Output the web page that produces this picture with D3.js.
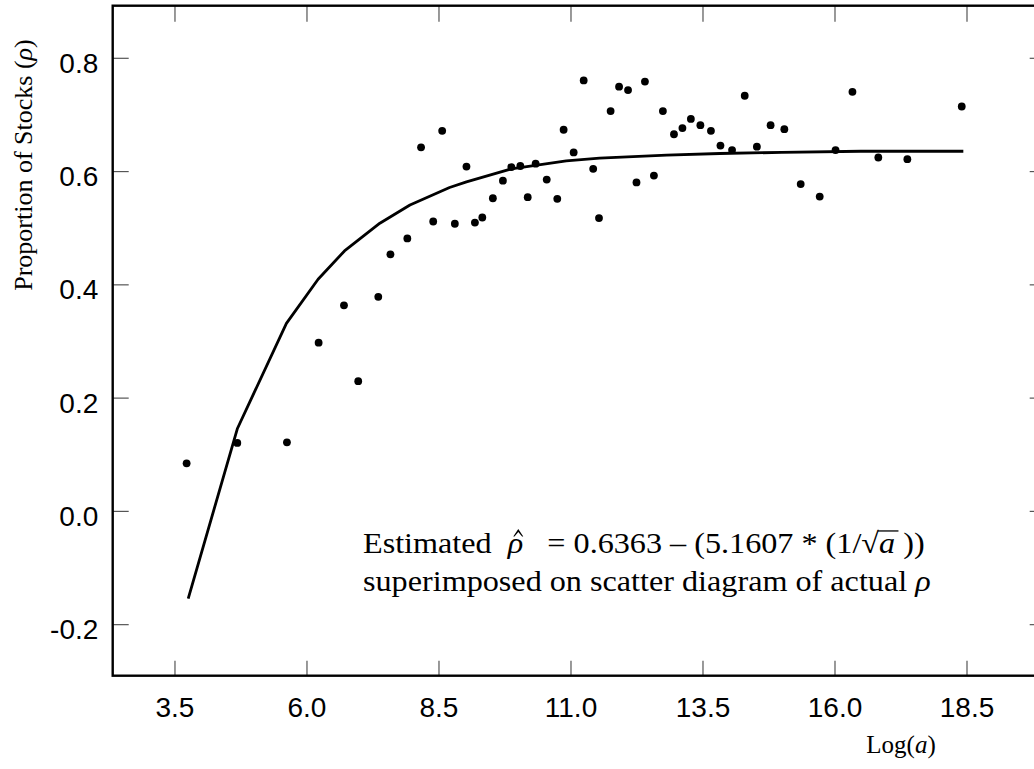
<!DOCTYPE html>
<html>
<head>
<meta charset="utf-8">
<script src="https://cdn.jsdelivr.net/npm/d3@7"></script>
<style>
  html, body { margin: 0; padding: 0; background: #fff; }
  svg { display: block; }
  text { white-space: pre; }
</style>
</head>
<body>
<svg id="chart" width="1034" height="769"></svg>
<script>
// observed rho for each Log(a)
const logA = [3.73, 4.69, 5.63, 6.23, 6.71, 6.98, 7.36, 7.59, 7.91, 8.17, 8.40, 8.57, 8.81, 9.03,
  9.19, 9.33, 9.53, 9.72, 9.88, 10.05, 10.19, 10.34, 10.55, 10.75, 10.87, 11.06, 11.25, 11.43,
  11.54, 11.76, 11.92, 12.09, 12.25, 12.41, 12.58, 12.75, 12.96, 13.12, 13.28, 13.46, 13.66,
  13.84, 14.06, 14.30, 14.53, 14.79, 15.05, 15.36, 15.72, 16.02, 16.34, 16.83, 17.38, 18.41];
const rho = [0.084, 0.120, 0.121, 0.297, 0.363, 0.229, 0.378, 0.453, 0.481, 0.642, 0.511, 0.671,
  0.507, 0.608, 0.509, 0.518, 0.552, 0.583, 0.607, 0.609, 0.554, 0.613, 0.585, 0.551, 0.673,
  0.633, 0.760, 0.604, 0.517, 0.706, 0.749, 0.743, 0.580, 0.758, 0.592, 0.706, 0.665, 0.676,
  0.692, 0.681, 0.671, 0.645, 0.637, 0.733, 0.643, 0.681, 0.674, 0.577, 0.555, 0.637, 0.740,
  0.624, 0.621, 0.714];

// fitted curve
const fitLogA = [3.76, 4.69, 5.62, 6.22, 6.72, 7.39, 7.96, 8.71, 9.03, 9.88, 10.92, 11.55,
  12.82, 13.83, 15.0, 16.5, 18.44];
const fitRho = [-0.155, 0.145, 0.331, 0.409, 0.459, 0.508, 0.540, 0.571, 0.581, 0.604, 0.618,
  0.623, 0.628, 0.631, 0.633, 0.635, 0.635];

const xTicks = [3.5, 6.0, 8.5, 11.0, 13.5, 16.0, 18.5];
const yTicks = [-0.2, 0.0, 0.2, 0.4, 0.6, 0.8];

const serif = "'Liberation Serif', 'Times New Roman', serif";
const sans = "'Liberation Sans', Arial, sans-serif";

const margin = { left: 112.7, top: 5.7 };
const width = 933, height = 670;

const svg = d3.select("#chart");
const g = svg.append("g").attr("transform", `translate(${margin.left},${margin.top})`);

const x = d3.scaleLinear().domain([2.33, 20.0]).range([0, width]);
const y = d3.scaleLinear().domain([-0.291, 0.892]).range([height, 0]);

const fmt = d => d.toFixed(1);

function styleTicks(sel) {
  sel.select(".domain").remove();
  sel.selectAll(".tick line").attr("stroke", "#555").attr("stroke-width", 1.2);
}

g.append("g")
  .call(d3.axisLeft(y).tickValues(yTicks).tickSize(-16).tickPadding(14.4).tickFormat(fmt))
  .call(styleTicks)
  .call(a => a.selectAll("text")
    .attr("font-family", sans).attr("font-size", 28).attr("fill", "#000").attr("dy", "0.52em"));

g.append("g")
  .attr("transform", `translate(0,${height})`)
  .call(d3.axisBottom(x).tickValues(xTicks).tickSize(-15).tickPadding(21.4).tickFormat(fmt))
  .call(styleTicks)
  .call(a => a.selectAll("text")
    .attr("font-family", sans).attr("font-size", 28).attr("fill", "#000"));

g.append("g")
  .call(d3.axisTop(x).tickValues(xTicks).tickSize(-16).tickFormat(""))
  .call(styleTicks);

g.append("g")
  .attr("transform", `translate(${width},0)`)
  .call(d3.axisRight(y).tickValues(yTicks).tickSize(-16).tickFormat(""))
  .call(styleTicks);

// frame
g.append("rect")
  .attr("width", width).attr("height", height)
  .attr("fill", "none").attr("stroke", "#000").attr("stroke-width", 2.4);

// fitted line
const line = d3.line().x(d => x(d[0])).y(d => y(d[1]));
g.append("path")
  .datum(d3.zip(fitLogA, fitRho))
  .attr("d", line)
  .attr("fill", "none").attr("stroke", "#000").attr("stroke-width", 2.8)
  .attr("stroke-linejoin", "round");

// scatter
g.selectAll("circle.pt")
  .data(d3.zip(logA, rho))
  .join("circle")
  .attr("class", "pt")
  .attr("cx", d => x(d[0]))
  .attr("cy", d => y(d[1]))
  .attr("r", 3.9)
  .attr("fill", "#000");

// axis titles
const yTitle = svg.append("text")
  .attr("transform", "translate(32,165) rotate(-90)")
  .attr("text-anchor", "middle")
  .attr("font-family", serif).attr("font-size", 26);
yTitle.append("tspan").text("Proportion of Stocks (");
yTitle.append("tspan").attr("font-style", "italic").text("ρ");
yTitle.append("tspan").text(")");

const xTitle = svg.append("text")
  .attr("x", 901).attr("y", 753)
  .attr("text-anchor", "middle")
  .attr("font-family", serif).attr("font-size", 25);
xTitle.append("tspan").text("Log(");
xTitle.append("tspan").attr("font-style", "italic").text("a");
xTitle.append("tspan").text(")");

// annotation, built piece by piece so the hat and the root bar can be placed
const fs = 29;
const ax0 = 363;
const ann = svg.append("g")
  .attr("transform", `translate(${ax0},0) scale(1.11,1) translate(${-ax0},0)`)
  .attr("font-family", serif).attr("font-size", fs);
let cx = ax0;
const base1 = 553;
function piece(str, italic, gapAfter) {
  const t = ann.append("text").attr("x", cx).attr("y", base1).text(str);
  if (italic) t.attr("font-style", "italic");
  const w = t.node().getComputedTextLength();
  const start = cx;
  cx += w + (gapAfter || 0);
  return { start, w, t };
}
piece("Estimated", false, fs * 0.5);
const rhoHat = piece("ρ", true, fs * 0.75);
// circumflex over rho
const hx = rhoHat.start + rhoHat.w / 2 + 2.5;
const hb = base1 - 16.5, ht = base1 - 24;
ann.append("path")
  .attr("d", `M${hx - 4.5},${hb} L${hx},${ht} L${hx + 4.5},${hb}`
    + ` L${hx + 3.4},${hb} L${hx},${ht + 3} L${hx - 3.4},${hb} Z`)
  .attr("fill", "#000");
piece("= 0.6363 – (5.1607 * (1/", false, 0);
const root = piece("√", false, 0);
const aVar = piece("a", true, fs * 0.25);
piece("))", false, 0);
ann.append("line")
  .attr("x1", root.start + root.w - 1).attr("x2", aVar.start + aVar.w + 3)
  .attr("y1", base1 - fs * 0.76).attr("y2", base1 - fs * 0.76)
  .attr("stroke", "#000").attr("stroke-width", 1.3);

const line2 = ann.append("text").attr("x", ax0).attr("y", 591);
line2.append("tspan").text("superimposed on scatter diagram of actual ");
line2.append("tspan").attr("font-style", "italic").text("ρ");
</script>
</body>
</html>
